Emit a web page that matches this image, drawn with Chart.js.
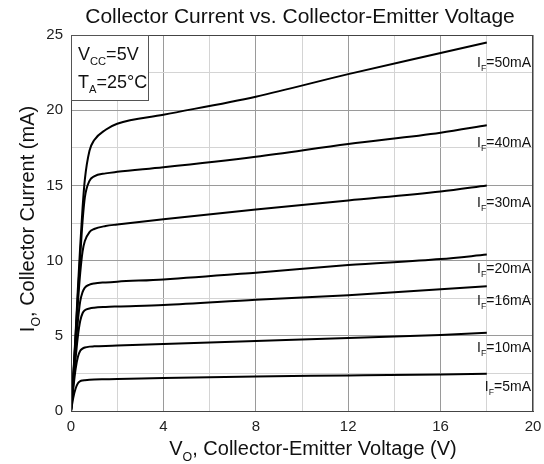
<!DOCTYPE html>
<html>
<head>
<meta charset="utf-8">
<script src="https://cdn.jsdelivr.net/npm/chart.js@4"></script>
<style>
  body { margin: 0; background: #fff; }
  canvas { display: block; }
</style>
</head>
<body>
<canvas id="chart" width="544" height="464"></canvas>
<script>
// collector-emitter voltage (V), shared by all curves
const voltage = [0, 0.1, 0.2, 0.3, 0.4, 0.5, 0.6, 0.8, 1, 1.5, 2, 4, 8, 12, 16, 18];

// collector current (mA) for each forward current
const io5mA  = [0, 0.9, 1.5, 1.85, 1.98, 2.03, 2.05, 2.08, 2.1, 2.11, 2.12, 2.2, 2.3, 2.36, 2.43, 2.48];
const io10mA = [0, 1.5, 2.8, 3.6, 4.0, 4.15, 4.22, 4.28, 4.3, 4.33, 4.35, 4.45, 4.65, 4.85, 5.05, 5.2];
const io16mA = [0, 1.8, 3.5, 5.0, 6.0, 6.5, 6.7, 6.82, 6.87, 6.92, 6.95, 7.05, 7.4, 7.7, 8.1, 8.3];
const io20mA = [0, 2.0, 4.2, 6.0, 7.3, 7.9, 8.2, 8.4, 8.48, 8.55, 8.6, 8.75, 9.2, 9.7, 10.1, 10.4];
const io30mA = [0, 2.2, 4.8, 7.2, 9.2, 10.6, 11.3, 11.9, 12.1, 12.3, 12.4, 12.75, 13.4, 14.0, 14.6, 15.0];
const io40mA = [0, 2.3, 5.0, 7.8, 10.3, 12.6, 14.2, 15.3, 15.6, 15.8, 15.9, 16.2, 16.9, 17.75, 18.5, 19.0];
const io50mA = [0, 2.4, 5.2, 8.2, 11.0, 13.5, 15.4, 17.3, 18.0, 18.7, 19.1, 19.7, 20.9, 22.4, 23.8, 24.5];

const forwardCurrents = ["5mA", "10mA", "16mA", "20mA", "30mA", "40mA", "50mA"];
const seriesValues = [io5mA, io10mA, io16mA, io20mA, io30mA, io40mA, io50mA];
// where each "IF=..." label sits (mA), just under its curve
const labelLevels = [1.65, 4.25, 7.4, 9.5, 13.9, 17.9, 23.2];

const xTicks = [0, 4, 8, 12, 16, 20];
const yTicks = [0, 5, 10, 15, 20, 25];

const FONT = "'Liberation Sans', Arial, sans-serif";

// draws text made of normal / sub / sup pieces
function drawRich(ctx, parts, x, y, size, align) {
  const pieces = parts.map(([text, kind]) => {
    const s = kind === "n" ? size : size * 0.62;
    ctx.font = `${s}px ${FONT}`;
    return { text, s, w: ctx.measureText(text).width, dy: kind === "sub" ? size * 0.3 : kind === "sup" ? -size * 0.45 : 0 };
  });
  const total = pieces.reduce((a, p) => a + p.w, 0);
  let cx = align === "center" ? x - total / 2 : align === "right" ? x - total : x;
  ctx.textAlign = "left";
  ctx.textBaseline = "alphabetic";
  pieces.forEach(p => {
    ctx.font = `${p.s}px ${FONT}`;
    ctx.fillText(p.text, cx, y + p.dy);
    cx += p.w;
  });
}

const annotations = {
  id: "annotations",
  afterDatasetsDraw(chart) {
    const { ctx, chartArea: a, scales: { x, y } } = chart;
    ctx.save();

    // top & right frame
    ctx.strokeStyle = "#444";
    ctx.lineWidth = 1;
    ctx.strokeRect(a.left + 0.5, a.top + 0.5, a.right - a.left - 1, a.bottom - a.top);

    ctx.fillStyle = "#111";

    // title
    drawRich(ctx, [["Collector Current vs. Collector-Emitter Voltage", "n"]], 300, 23, 21, "center");

    // x axis title
    drawRich(ctx, [["V", "n"], ["O", "sub"], [", Collector-Emitter Voltage (V)", "n"]], 313, 455, 20, "center");

    // y axis title
    ctx.save();
    ctx.translate(34, 219);
    ctx.rotate(-Math.PI / 2);
    drawRich(ctx, [["I", "n"], ["O", "sub"], [", Collector Current (mA)", "n"]], 0, 0, 20, "center");
    ctx.restore();

    // condition box
    ctx.fillStyle = "#fff";
    ctx.fillRect(a.left, a.top, 77, 65);
    ctx.strokeStyle = "#555";
    ctx.strokeRect(a.left + 0.5, a.top + 0.5, 77, 65);
    ctx.fillStyle = "#111";
    drawRich(ctx, [["V", "n"], ["CC", "sub"], ["=5V", "n"]], a.left + 7, a.top + 25, 18, "left");
    drawRich(ctx, [["T", "n"], ["A", "sub"], ["=25°C", "n"]], a.left + 7, a.top + 53, 18, "left");

    // curve labels
    forwardCurrents.forEach((fc, i) => {
      const py = y.getPixelForValue(labelLevels[i]) + 5;
      drawRich(ctx, [["I", "n"], ["F", "sub"], ["=" + fc, "n"]], a.right - 2, py, 14, "right");
    });

    ctx.restore();
  }
};

new Chart(document.getElementById("chart"), {
  type: "line",
  data: {
    datasets: seriesValues.map((vals, i) => ({
      label: "IF=" + forwardCurrents[i],
      data: voltage.map((v, j) => ({ x: v, y: vals[j] })),
      borderColor: "#000",
      borderWidth: 2,
      pointRadius: 0,
      cubicInterpolationMode: "monotone",
      fill: false
    }))
  },
  options: {
    responsive: false,
    animation: false,
    devicePixelRatio: 1,
    layout: { padding: { top: 35, right: 11, left: 0, bottom: 0 } },
    plugins: {
      legend: { display: false },
      title: { display: false },
      tooltip: { enabled: false }
    },
    scales: {
      x: {
        type: "linear",
        min: 0,
        max: 20,
        afterFit: s => { s.height = 53; s.paddingRight = 0; s.paddingLeft = 0; },
        ticks: {
          stepSize: 2,
          autoSkip: false,
          maxRotation: 0,
          padding: 7,
          color: "#222",
          font: { family: FONT, size: 15 },
          callback: v => (xTicks.includes(v) ? v : "")
        },
        grid: {
          drawTicks: false,
          color: c => (xTicks.includes(c.tick.value) ? "#9a9a9a" : "#d4d4d4")
        },
        border: { color: "#444" }
      },
      y: {
        min: 0,
        max: 25,
        afterFit: s => { s.width = 71; },
        ticks: {
          stepSize: 2.5,
          autoSkip: false,
          padding: 8,
          color: "#222",
          font: { family: FONT, size: 15 },
          callback: v => (yTicks.includes(v) ? v : "")
        },
        grid: {
          drawTicks: false,
          color: c => (yTicks.includes(c.tick.value) ? "#9a9a9a" : "#d4d4d4")
        },
        border: { color: "#444" }
      }
    }
  },
  plugins: [annotations]
});
</script>
</body>
</html>
